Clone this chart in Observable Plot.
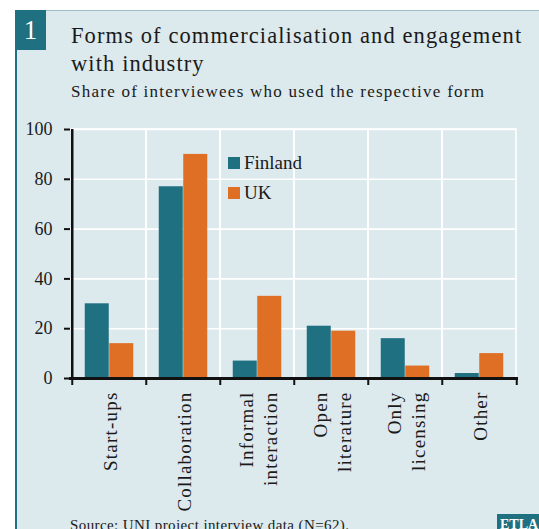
<!DOCTYPE html>
<html>
<head>
<meta charset="utf-8">
<script src="https://cdn.jsdelivr.net/npm/d3@7"></script>
<script src="https://cdn.jsdelivr.net/npm/@observablehq/plot@0.6"></script>
<style>
  body { margin: 0; background: #ffffff; }
  #wrap { position: relative; width: 539px; height: 529px; overflow: hidden; font-family: "Liberation Serif", serif; color: #1a1a1a; }
  #panel { position: absolute; left: 15px; top: 10px; width: 524px; height: 519px; background: #dce9ed; border-left: 2px solid #1f7080; border-top: 1px solid #9fbfc6; box-sizing: border-box; }
  #num { position: absolute; left: 15px; top: 10px; width: 31px; height: 40px; background: #1f7080; color: #fff; font-size: 27px; text-align: center; line-height: 40px; }
  #title { position: absolute; left: 71px; top: 22px; font-size: 22.5px; line-height: 28px; letter-spacing: 1.1px; white-space: nowrap; }
  #subtitle { position: absolute; left: 71px; top: 82px; font-size: 17px; letter-spacing: 1.25px; white-space: nowrap; }
  #chart { position: absolute; left: 0; top: 110px; }
  .leg { position: absolute; left: 228px; font-size: 19px; white-space: nowrap; }
  .leg span.sw { display: inline-block; width: 12px; height: 12px; margin-right: 4px; vertical-align: 0px; }
  #source { position: absolute; left: 70px; top: 517px; font-size: 15px; letter-spacing: 0.4px; white-space: nowrap; }
  #etla { position: absolute; left: 497px; top: 514px; width: 50px; height: 20px; background: #1f7080; color: #fff; font-weight: bold; font-size: 14px; padding-left: 3px; line-height: 22px; }
</style>
</head>
<body>
<div id="wrap">
  <div id="panel"></div>
  <div id="num">1</div>
  <div id="title">Forms of commercialisation and engagement<br>with industry</div>
  <div id="subtitle">Share of interviewees who used the respective form</div>
  <div id="chart"></div>
  <div class="leg" id="leg0" style="top:152px"></div>
  <div class="leg" id="leg1" style="top:182px"></div>
  <div id="source">Source: UNI project interview data (N=62).</div>
  <div id="etla">ETLA</div>
</div>
<script>
const categories = ["Start-ups", "Collaboration", "Informal interaction", "Open literature", "Only licensing", "Other"];
const tickLabels = ["Start-ups", "Collaboration", "Informal\ninteraction", "Open\nliterature", "Only\nlicensing", "Other"];
const countries = ["Finland", "UK"];
const finland = [30, 77, 7, 21, 16, 2];
const uk = [14, 90, 33, 19, 5, 10];
const yTicks = [0, 20, 40, 60, 80, 100];
const colors = ["#1f7080", "#e06f26"];

const rows = [
  ...categories.map((c, i) => ({category: c, country: countries[0], value: finland[i]})),
  ...categories.map((c, i) => ({category: c, country: countries[1], value: uk[i]}))
];

const W = 539, H = 400, ml = 70, mr = 22, mt = 19, mb = 132;
const bw = (W - ml - mr) / categories.length;
const barW = 24.5;
const pad = (bw - 2 * barW) / 2;
const ink = "#111";

const chart = Plot.plot({
  width: W, height: H,
  marginLeft: ml, marginRight: mr, marginTop: mt, marginBottom: mb,
  style: {background: "transparent", fontFamily: "Liberation Serif, serif", color: "#1a1a1a", overflow: "visible"},
  x: {type: "band", domain: categories, padding: 0, axis: null},
  y: {domain: [0, 100], axis: null},
  marks: [
    Plot.gridY(yTicks, {stroke: "white", strokeOpacity: 1, strokeWidth: 1.6}),
    Plot.barY(categories, {x: d => d, y1: 0, y2: 100, fill: "none", stroke: "white", strokeWidth: 1.6}),
    Plot.barY(rows.filter(d => d.country === countries[0]), {x: "category", y: "value", fill: colors[0], insetLeft: pad, insetRight: bw - pad - barW}),
    Plot.barY(rows.filter(d => d.country === countries[1]), {x: "category", y: "value", fill: colors[1], insetLeft: pad + barW, insetRight: pad}),
    Plot.ruleX([categories[0]], {dx: -bw / 2, stroke: ink, strokeWidth: 2.5, insetBottom: -1}),
    Plot.ruleY([0], {stroke: ink, strokeWidth: 3, insetLeft: -1, insetRight: -1}),
    Plot.ruleX(categories, {x: d => d, dx: -bw / 2, y1: 0, y2: 0, insetBottom: -7, stroke: ink, strokeWidth: 2}),
    Plot.ruleX([categories[categories.length - 1]], {dx: bw / 2, y1: 0, y2: 0, insetBottom: -7, stroke: ink, strokeWidth: 2}),
    Plot.axisY(yTicks, {tickSize: 6, tickPadding: 12, fontSize: 18, strokeWidth: 2, stroke: ink, fill: "#1a1a1a", label: null}),
    Plot.text(categories, {x: d => d, text: (d, i) => tickLabels[i], frameAnchor: "bottom", rotate: -90, textAnchor: "end", lineAnchor: "middle", lineHeight: 1.24, dy: 13, fontSize: 19, fill: "#1a1a1a"})
  ]
});
chart.querySelectorAll('g[aria-label="text"] text').forEach(t => t.setAttribute("letter-spacing", "1.2"));
document.getElementById("chart").appendChild(chart);

countries.forEach((c, i) => {
  const el = document.getElementById("leg" + i);
  el.innerHTML = `<span class="sw" style="background:${colors[i]}"></span>${c}`;
});
</script>
</body>
</html>
